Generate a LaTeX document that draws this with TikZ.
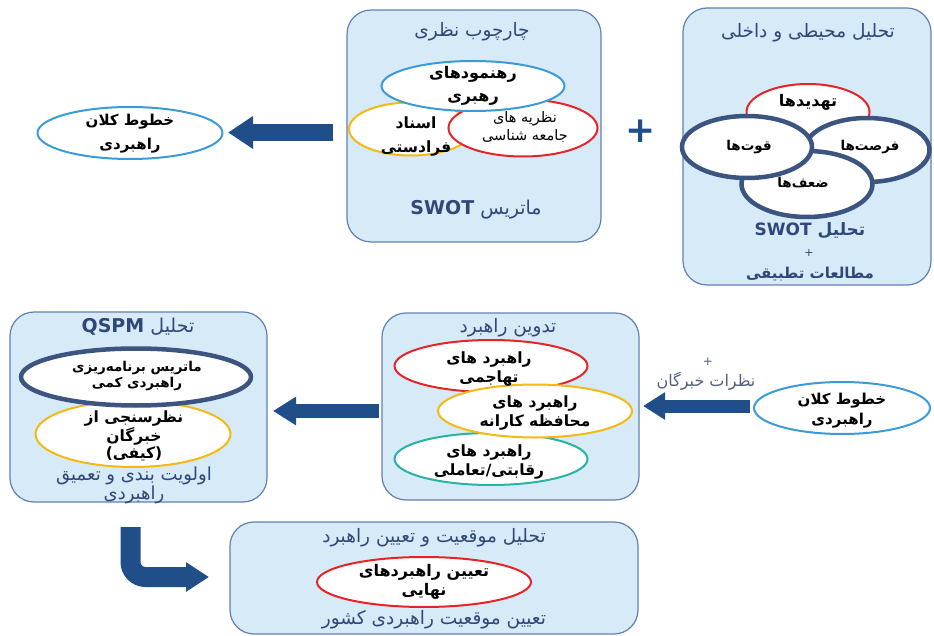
\documentclass[tikz,border=0pt]{standalone}
\usepackage{fontspec}
\usetikzlibrary{shapes.geometric,arrows.meta}
\TeXXeTstate=1
\newfontfamily\fa[Script=Arabic]{DejaVu Sans}
\newcommand\rtlx[1]{\beginR#1\endR}
\definecolor{panelfill}{RGB}{214,234,248}
\definecolor{panelline}{RGB}{98,128,178}
\definecolor{titleblue}{RGB}{47,72,120}
\definecolor{arrowblue}{RGB}{31,78,137}
\definecolor{thickblue}{RGB}{59,85,128}
\definecolor{lineblue}{RGB}{58,155,215}
\definecolor{lred}{RGB}{232,35,40}
\definecolor{lyellow}{RGB}{245,185,20}
\definecolor{lteal}{RGB}{40,180,160}
\definecolor{grayblue}{RGB}{80,95,125}
\tikzset{
  panel/.style={draw=panelline, line width=1.2pt, fill=panelfill, rounded corners=24pt, inner sep=0pt},
  ell/.style={ellipse, fill=white, line width=2pt, inner sep=0pt},
  thickell/.style={ell, draw=thickblue, line width=4.5pt},
  etxt/.style={align=center, inner sep=0pt, font=\fa\bfseries\fontsize{15}{21}\selectfont},
  stxt/.style={align=center, inner sep=0pt, font=\fa\bfseries\fontsize{13.5}{16}\selectfont},
  ttl/.style={align=center, inner sep=0pt, text=titleblue, font=\fa\fontsize{18.5}{19}\selectfont},
  bttl/.style={align=center, inner sep=0pt, text=titleblue, font=\fa\bfseries\fontsize{17}{21}\selectfont},
  blockarrow/.style n args={3}{draw=arrowblue, line width=#1, -{Triangle[length=#3, width=#2]}},
}
\begin{document}
\begin{tikzpicture}[x=1pt,y=-1pt]
\useasboundingbox (0,0) rectangle (934,636);
% ---------- panels
\node[panel, minimum width=248pt, minimum height=277pt] (pTR) at (807,146.5) {};
\node[panel, minimum width=254pt, minimum height=232pt] (pTM) at (474,126) {};
\node[panel, minimum width=257pt, minimum height=190pt] (pML) at (138.5,407) {};
\node[panel, minimum width=257pt, minimum height=187pt] (pMC) at (510.5,406.5) {};
\node[panel, minimum width=408pt, minimum height=112pt] (pB) at (434,578) {};

% ---------- top right panel
\node[ttl] (tTR) at (808,33) {\rtlx{تحلیل محیطی و داخلی}};
\node[ell, draw=lred, minimum width=123pt, minimum height=56pt] (eT) at (808,112) {};
\node[thickell, minimum width=125pt, minimum height=64pt] (eO) at (867,150) {};
\node[thickell, minimum width=131pt, minimum height=66pt] (eW) at (807,184) {};
\node[thickell, minimum width=130pt, minimum height=62pt] (eS) at (747,147) {};
\node[stxt, font=\fa\bfseries\fontsize{16}{16}\selectfont] (xT) at (808,102) {\rtlx{تهدیدها}};
\node[stxt] (xS) at (749,147) {\rtlx{قوت‌ها}};
\node[stxt] (xO) at (870,147) {\rtlx{فرصت‌ها}};
\node[stxt] (xW) at (803,183) {\rtlx{ضعف‌ها}};
\node[bttl] (bTR1) at (810,231) {\rtlx{تحلیل \beginL SWOT\endL}};
\node[ttl, font=\fa\fontsize{11}{11}\selectfont] (bTR2) at (809,253) {+};
\node[bttl, font=\fa\bfseries\fontsize{15}{19}\selectfont] (bTR3) at (810,274) {\rtlx{مطالعات تطبیقی}};

% ---------- top middle panel
\node[ttl] (tTM) at (472,32) {\rtlx{چارچوب نظری}};
\node[ell, draw=lyellow, minimum width=124pt, minimum height=53pt] (eA) at (411,129) {};
\node[ell, draw=lred, minimum width=149pt, minimum height=57pt] (eN) at (523,128) {};
\node[ell, draw=lineblue, minimum width=183pt, minimum height=50pt] (eR) at (473,86) {};
\node[etxt, font=\fa\bfseries\fontsize{16}{21}\selectfont] (xR) at (473,86) {\rtlx{رهنمودهای}\\[2pt]\rtlx{رهبری}};
\node[etxt, font=\fa\bfseries\fontsize{15.5}{22}\selectfont] (xA) at (416,137) {\rtlx{اسناد}\\[2pt]\rtlx{فرادستی}};
\node[stxt, font=\fa\fontsize{14.5}{18}\selectfont] (xN) at (525,127) {\rtlx{نظریه های}\\\rtlx{جامعه شناسی}};
\node[ttl, font=\fa\fontsize{19}{19}\selectfont] (bTM) at (476,210) {\rtlx{ماتریس \beginL\bfseries SWOT\endL}};

% ---------- plus
\node[text=arrowblue, font=\fa\bfseries\fontsize{36}{36}\selectfont, inner sep=0pt] (plus) at (641,131) {+};

% ---------- left ellipse
\node[ell, draw=lineblue, minimum width=185pt, minimum height=52pt] (eL) at (130,133) {};
\node[etxt] (xL) at (130,134) {\rtlx{خطوط کلان}\\[3pt]\rtlx{راهبردی}};

% ---------- middle left panel
\node[ttl, font=\fa\fontsize{19}{19}\selectfont] (tML) at (138,327) {\rtlx{تحلیل \beginL\bfseries QSPM\endL}};
\node[ell, draw=lyellow, minimum width=195pt, minimum height=66pt] (eQ) at (133,434) {};
\node[thickell, minimum width=230pt, minimum height=57pt] (eM) at (136,377) {};
\node[stxt] (xM) at (137,376) {\rtlx{ماتریس برنامه‌ریزی}\\\rtlx{راهبردی کمی}};
\node[etxt, font=\fa\bfseries\fontsize{15.5}{17}\selectfont] (xQ) at (134,436) {\rtlx{نظرسنجی از}\\\rtlx{خبرگان}\\\rtlx{(کیفی)}};
\node[ttl, font=\fa\fontsize{18}{17.5}\selectfont] (bML) at (134,485) {\rtlx{اولویت بندی و تعمیق}\\\rtlx{راهبردی}};

% ---------- middle center panel
\node[ttl] (tMC) at (508,328) {\rtlx{تدوین راهبرد}};
\node[ell, draw=lred, minimum width=193pt, minimum height=52pt] (eH) at (491,366) {};
\node[ell, draw=lteal, minimum width=193pt, minimum height=52pt] (eK) at (491,459) {};
\node[ell, draw=lyellow, minimum width=194pt, minimum height=53pt] (eP) at (535,411) {};
\node[etxt, font=\fa\bfseries\fontsize{15.5}{18.5}\selectfont] (xH) at (489,369) {\rtlx{راهبرد های}\\\rtlx{تهاجمی}};
\node[etxt, font=\fa\bfseries\fontsize{15.5}{18.5}\selectfont] (xP) at (535,413) {\rtlx{راهبرد های}\\\rtlx{محافظه کارانه}};
\node[etxt, font=\fa\bfseries\fontsize{15.5}{18.5}\selectfont] (xK) at (489,462) {\rtlx{راهبرد های}\\\rtlx{رقابتی/تعاملی}};

% ---------- right ellipse and note
\node[ell, draw=lineblue, minimum width=176pt, minimum height=52pt] (eL2) at (842,408) {};
\node[etxt, font=\fa\bfseries\fontsize{15}{19}\selectfont] (xL2) at (842,411) {\rtlx{خطوط کلان}\\[1pt]\rtlx{راهبردی}};
\node[text=grayblue, font=\fa\fontsize{12}{12}\selectfont, inner sep=0pt] (pl2) at (708,362) {+};
\node[text=grayblue, font=\fa\fontsize{16}{16}\selectfont, inner sep=0pt] (nx) at (706,381) {\rtlx{نظرات خبرگان}};

% ---------- bottom panel
\node[ttl] (tB) at (434,538) {\rtlx{تحلیل موقعیت و تعیین راهبرد}};
\node[ell, draw=lred, minimum width=214pt, minimum height=50pt] (eF) at (424,582) {};
\node[etxt, font=\fa\bfseries\fontsize{16}{19}\selectfont] (xF) at (424,582) {\rtlx{تعیین راهبردهای}\\\rtlx{نهایی}};
\node[ttl, font=\fa\fontsize{18.5}{19}\selectfont] (bB) at (434,620) {\rtlx{تعیین موقعیت راهبردی کشور}};

% ---------- arrows
\coordinate (a1s) at (333,132.5);
\coordinate (a1e) at (228,132.5);
\draw[blockarrow={17pt}{31pt}{25pt}] (a1s) -- (a1e);
\coordinate (a2s) at (379,411);
\coordinate (a2e) at (273,411);
\draw[blockarrow={14pt}{27pt}{23pt}] (a2s) -- (a2e);
\coordinate (a3s) at (750,406);
\coordinate (a3e) at (643,406);
\draw[blockarrow={13pt}{26pt}{22pt}] (a3s) -- (a3e);
\coordinate (a4s) at (130.5,527);
\coordinate (a4c) at (130.5,577);
\coordinate (a4e) at (209,577);
\draw[blockarrow={20pt}{28pt}{23pt}, rounded corners=15pt] (a4s) -- (a4c) -- (a4e);
\end{tikzpicture}
\end{document}
